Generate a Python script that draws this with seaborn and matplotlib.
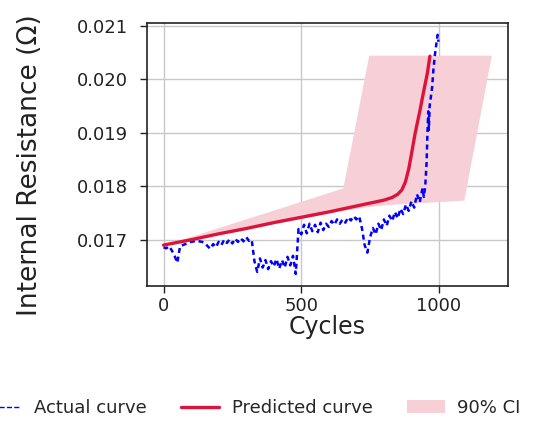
import matplotlib
matplotlib.use("Agg")
import matplotlib.pyplot as plt
import seaborn as sns
import pandas as pd
from matplotlib.patches import Patch
from matplotlib.lines import Line2D

# ---------------- data ----------------
actual_cycles = [0, 10, 20, 30, 40, 50, 60, 70, 80, 90,
                 100, 110, 120, 130, 140, 150, 160, 170, 180, 190,
                 200, 210, 220, 230, 240, 250, 260, 270, 280, 290,
                 300, 310, 320, 330, 340, 350, 360, 370, 380, 390,
                 400, 410, 420, 430, 440, 450, 460, 470, 480, 490,
                 500, 510, 520, 530, 540, 550, 560, 570, 580, 590,
                 600, 610, 620, 630, 640, 650, 660, 670, 680, 690,
                 700, 710, 720, 730, 740, 750, 760, 770, 780, 790,
                 800, 810, 820, 830, 840, 850, 860, 870, 880, 890,
                 900, 910, 920, 930, 940, 945, 950, 955, 958, 961,
                 963, 966, 970, 975, 980, 985, 990, 995, 998]
actual_res = [0.01686, 0.01684, 0.01688, 0.01680, 0.01670, 0.01657, 0.01688, 0.01690, 0.01692, 0.01694,
              0.01696, 0.01697, 0.01698, 0.01697, 0.01696, 0.01694, 0.01688, 0.01683, 0.01692, 0.01686,
              0.01696, 0.01690, 0.01700, 0.01694, 0.01701, 0.01693, 0.01702, 0.01696, 0.01703, 0.01697,
              0.01705, 0.01698, 0.01700, 0.01660, 0.01640, 0.01665, 0.01648, 0.01662, 0.01645, 0.01660,
              0.01650, 0.01664, 0.01646, 0.01662, 0.01648, 0.01668, 0.01652, 0.01670, 0.01636, 0.01720,
              0.01710, 0.01728, 0.01712, 0.01730, 0.01716, 0.01728, 0.01714, 0.01732, 0.01718, 0.01730,
              0.01724, 0.01735, 0.01728, 0.01738, 0.01730, 0.01738, 0.01732, 0.01742, 0.01736, 0.01744,
              0.01738, 0.01744, 0.01722, 0.01690, 0.01676, 0.01705, 0.01722, 0.01710, 0.01730, 0.01718,
              0.01738, 0.01726, 0.01745, 0.01735, 0.01752, 0.01740, 0.01758, 0.01748, 0.01766, 0.01754,
              0.01772, 0.01760, 0.01785, 0.01770, 0.01796, 0.01780, 0.01800, 0.01845, 0.01900, 0.01940,
              0.01905, 0.01950, 0.01965, 0.01985, 0.02020, 0.02045, 0.02065, 0.02083, 0.02070]

pred_cycles = [0, 100, 200, 300, 400, 500, 600, 700, 800, 830, 850, 865, 878,
               890, 900, 913, 931, 943, 958, 967]
pred_res = [0.01690, 0.01700, 0.01711, 0.01721, 0.01732, 0.01742, 0.01752, 0.01763,
            0.01774, 0.01779, 0.01785, 0.01793, 0.01808, 0.01832, 0.01860, 0.01898,
            0.01942, 0.01974, 0.02012, 0.02043]

ci_cycles = [0, 500, 651, 745, 820, 1090, 1190]
ci_upper = [0.01690, 0.01772, 0.01797, 0.02045, 0.02045, 0.02045, 0.02045]
ci_lower = [0.01690, 0.01740, 0.01755, 0.01762, 0.01766, 0.01774, 0.02045]

x_ticks = [0, 500, 1000]
y_ticks = [0.017, 0.018, 0.019, 0.020, 0.021]
y_tick_labels = ["0.017", "0.018", "0.019", "0.020", "0.021"]

labels = ["Actual curve", "Predicted curve", "90% CI"]

# ---------------- style ----------------
sns.set_style("ticks")
plt.rcParams["font.family"] = ["DejaVu Sans"]

blue = "#0000ff"
red = "#dc143c"
pink = "#f7cfd7"

df_actual = pd.DataFrame({"Cycles": actual_cycles, "R": actual_res})
df_pred = pd.DataFrame({"Cycles": pred_cycles, "R": pred_res})

fig = plt.figure(figsize=(5.39, 4.23), dpi=100)
ax = fig.add_axes([0.273, 0.324, 0.669, 0.622])

ax.fill_between(ci_cycles, ci_lower, ci_upper, color=pink, linewidth=0, zorder=1)
sns.lineplot(data=df_actual, x="Cycles", y="R", ax=ax, color=blue,
             linestyle=(0, (2.0, 1.5)), linewidth=1.8, sort=False, estimator=None, zorder=2)
sns.lineplot(data=df_pred, x="Cycles", y="R", ax=ax, color=red, linewidth=2.4,
             sort=False, estimator=None, zorder=3)

ax.set_xticks(x_ticks)
ax.set_yticks(y_ticks)
ax.set_yticklabels(y_tick_labels)
ax.grid(True, color="#c8c8c8", linewidth=1.0)
ax.set_axisbelow(True)
for s in ax.spines.values():
    s.set_color("#222222")
    s.set_linewidth(1.2)
ax.tick_params(axis="both", labelsize=13, length=5, width=1, colors="#222222",
               labelcolor="#222222")
ax.tick_params(axis="y", pad=9)
ax.tick_params(axis="x", pad=3)

ax.set_xlabel("Cycles", fontsize=17, color="#222222", labelpad=0)
ax.set_ylabel("Internal Resistance (\u03a9)", fontsize=19, color="#222222")
ax.yaxis.set_label_coords(-0.29, 0.46)

handles = [Line2D([], [], color=blue, linestyle="--", linewidth=1.0),
           Line2D([], [], color=red, linewidth=2.4),
           Patch(facecolor=pink, edgecolor="none")]
fig.legend(handles, labels, loc="center", bbox_to_anchor=(252 / 539, 1 - 408 / 423),
           ncol=3, frameon=False, fontsize=13, handlelength=2.1,
           handletextpad=0.7, columnspacing=1.9)

fig.savefig("out.png", dpi=100)
